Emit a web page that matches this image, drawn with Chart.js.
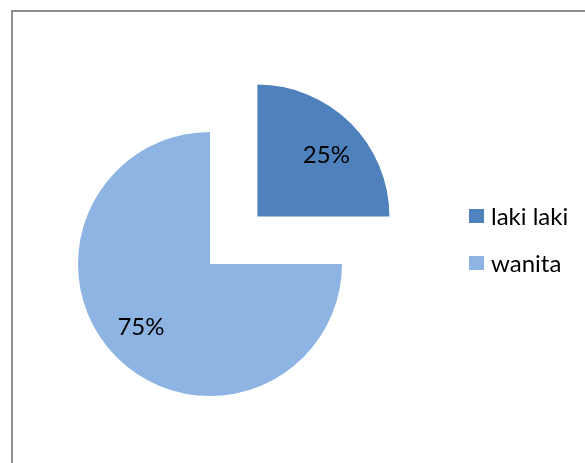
<!DOCTYPE html>
<html lang="id">
<head>
    <meta charset="UTF-8">
    <title>Pie Chart</title>
    <style>
        html, body {
            margin: 0;
            padding: 0;
            background: #fff;
            overflow: hidden;
            width: 585px;
            height: 463px;
        }
        .frame {
            position: absolute;
            left: 11px;
            top: 10px;
            width: 700px;
            height: 600px;
            border: 2px solid #8f8f8f;
        }
        #chart {
            position: absolute;
            left: 0;
            top: 0;
        }
        .legend-item {
            position: absolute;
            left: 469px;
            font-family: Lato, sans-serif;
            font-size: 24px;
            line-height: 24px;
            color: #000;
            white-space: nowrap;
        }
        .legend-item span.box {
            position: absolute;
            left: 0;
            top: 5px;
            width: 15px;
            height: 14px;
        }
        .legend-item span.text {
            position: absolute;
            left: 22px;
            top: 0;
        }
    </style>
    <script src="https://cdn.jsdelivr.net/npm/chart.js"></script>
</head>
<body>
    <div class="frame"></div>
    <canvas id="chart" width="585" height="463"></canvas>
    <div id="legend"></div>

    <script>
        // data
        const labels = ['laki laki', 'wanita'];
        const values = [25, 75];
        const colors = ['#4F81BD', '#8DB4E2'];

        // legend in html
        const legendTops = [204, 251];
        const legend = document.getElementById('legend');
        labels.forEach((lab, i) => {
            const item = document.createElement('div');
            item.className = 'legend-item';
            item.style.top = legendTops[i] + 'px';
            item.innerHTML = '<span class="box" style="background:' + colors[i] + '"></span><span class="text">' + lab + '</span>';
            legend.appendChild(item);
        });

        // percent labels inside slices
        const pctLabels = {
            id: 'pctLabels',
            afterDatasetsDraw(chart) {
                const ctx = chart.ctx;
                const meta = chart.getDatasetMeta(0);
                const data = chart.data.datasets[0].data;
                const total = data.reduce((a, b) => a + b, 0);
                ctx.save();
                ctx.font = '24px Lato, sans-serif';
                ctx.fillStyle = '#000';
                ctx.textAlign = 'center';
                ctx.textBaseline = 'middle';
                meta.data.forEach((arc, i) => {
                    const mid = (arc.startAngle + arc.endAngle) / 2;
                    const off = (arc.options.offset || 0) / 4;
                    // excel puts the label a little past the middle angle
                    const ang = mid + 0.05;
                    const ox = arc.x + Math.cos(mid) * off;
                    const oy = arc.y + Math.sin(mid) * off;
                    const r = arc.outerRadius * 0.705;
                    ctx.fillText(Math.round(data[i] / total * 100) + '%', ox + Math.cos(ang) * r, oy + Math.sin(ang) * r + 1);
                });
                ctx.restore();
            }
        };

        new Chart(document.getElementById('chart'), {
            type: 'pie',
            data: {
                labels: labels,
                datasets: [{
                    data: values,
                    backgroundColor: colors,
                    borderWidth: 0,
                    offset: [268, 0],
                    hoverOffset: 0
                }]
            },
            options: {
                responsive: false,
                animation: false,
                radius: 132,
                layout: {
                    padding: { left: 0, right: 165, top: 65, bottom: 0 }
                },
                plugins: {
                    legend: { display: false },
                    tooltip: { enabled: false }
                }
            },
            plugins: [pctLabels]
        });
    </script>
</body>
</html>
